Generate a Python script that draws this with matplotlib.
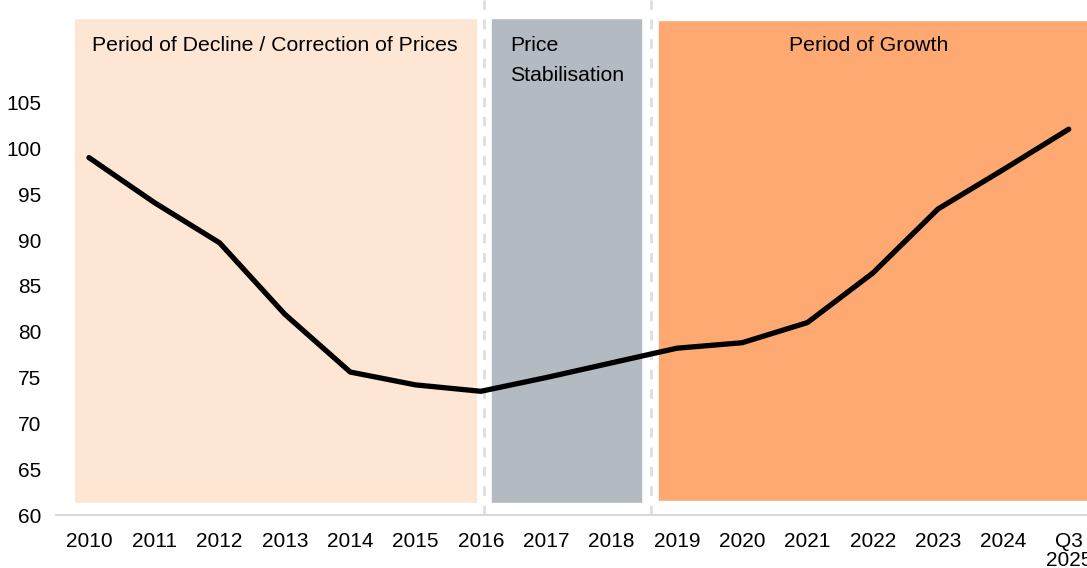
import matplotlib.pyplot as plt
import numpy as np

plt.rcParams['font.family'] = ['Liberation Sans', 'DejaVu Sans']

labels = ['2010', '2011', '2012', '2013', '2014', '2015', '2016', '2017',
          '2018', '2019', '2020', '2021', '2022', '2023', '2024', 'Q3\n2025']
index = [99.0, 94.1, 89.7, 81.9, 75.6, 74.2, 73.5, 75.0,
         76.6, 78.2, 78.8, 81.0, 86.4, 93.4, 97.7, 102.1]

x = np.arange(len(labels))

fig = plt.figure(figsize=(10.87, 5.68), dpi=100)
ax = fig.add_axes([0.0518, 0.0933, 0.9482, 0.9067])

# shaded periods
ax.axvspan(-0.21, 5.93, color='#FDE6D4', zorder=0)
ax.axvspan(6.17, 8.45, color='#B4BAC2', zorder=0)
ax.axvspan(8.73, 15.6, color='#FEA872', zorder=0)
ax.fill_between([-0.5, 15.6], 60, 61.35, color='white', zorder=0.5)
ax.fill_between([-0.5, 15.6], 114.2, 117, color='white', zorder=0.5)
ax.fill_between([8.73, 15.6], 61.35, 61.55, color='white', zorder=0.5)
ax.fill_between([8.73, 15.6], 114.0, 114.2, color='white', zorder=0.5)

for xv in [6.05, 8.6]:
    ax.axvline(xv, color='#DDDEE2', lw=2, ls=(0, (3.5, 3.5)), zorder=1)

ax.plot(x, index, color='black', lw=3.8, zorder=3, solid_capstyle='round')

ax.text(0.05, 111.2, 'Period of Decline / Correction of Prices', fontsize=15.3, va='center')
ax.text(6.45, 111.2, 'Price', fontsize=15.3, va='center')
ax.text(6.45, 108.0, 'Stabilisation', fontsize=15.3, va='center')
ax.text(11.94, 111.2, 'Period of Growth', fontsize=15.3, va='center', ha='center')

ax.set_xlim(-0.5, 15.28)
ax.set_ylim(60, 116.2)
ax.set_xticks(x)
ax.set_xticklabels(labels, fontsize=15, va='top', linespacing=1.0)
ax.set_yticks(np.arange(60, 110, 5))
ax.tick_params(axis='y', length=0, labelsize=15, pad=11)
ax.tick_params(axis='x', length=0, labelsize=15, pad=12)

for s in ['top', 'right', 'left']:
    ax.spines[s].set_visible(False)
ax.spines['bottom'].set_color('#D9D9D9')
ax.spines['bottom'].set_linewidth(1.5)

fig.savefig('out.png', dpi=100)
